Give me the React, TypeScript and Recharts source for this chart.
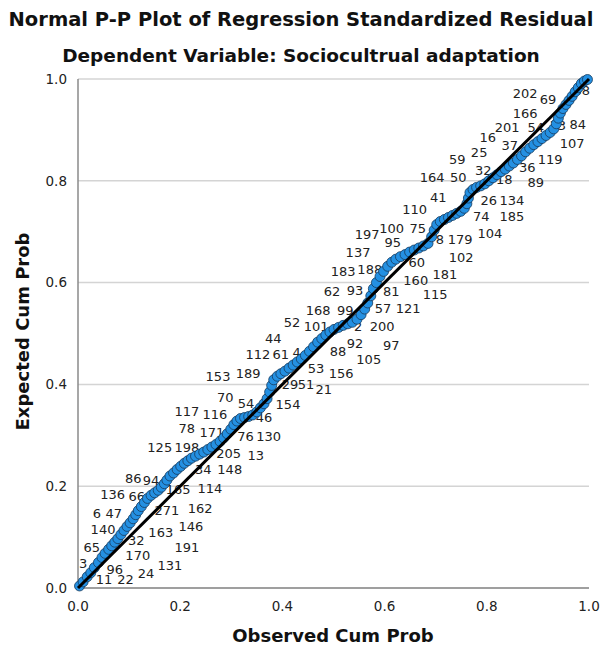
import { ScatterChart, Scatter, XAxis, YAxis, CartesianGrid } from "recharts";

const observed = [
  0.003, 0.010, 0.018, 0.025, 0.032, 0.040, 0.047, 0.053, 0.060, 0.066,
  0.072, 0.078, 0.084, 0.090, 0.096, 0.102, 0.108, 0.113, 0.118, 0.124,
  0.130, 0.136, 0.143, 0.150, 0.157, 0.163, 0.169, 0.174, 0.180, 0.187,
  0.194, 0.201, 0.208, 0.215, 0.222, 0.230, 0.238, 0.246, 0.254, 0.262,
  0.270, 0.278, 0.285, 0.292, 0.299, 0.305, 0.311, 0.318, 0.326, 0.334,
  0.342, 0.350, 0.357, 0.364, 0.370, 0.375, 0.379, 0.383, 0.390, 0.397,
  0.405, 0.413, 0.421, 0.429, 0.437, 0.445, 0.453, 0.461, 0.469, 0.477,
  0.485, 0.493, 0.501, 0.510, 0.519, 0.528, 0.537, 0.546, 0.554, 0.561,
  0.567, 0.573, 0.578, 0.584, 0.591, 0.598, 0.606, 0.614, 0.622, 0.631,
  0.640, 0.649, 0.658, 0.667, 0.676, 0.685, 0.692, 0.697, 0.702, 0.709,
  0.717, 0.725, 0.733, 0.741, 0.749, 0.756, 0.761, 0.764, 0.767, 0.773,
  0.780, 0.788, 0.796, 0.804, 0.812, 0.820, 0.828, 0.836, 0.844, 0.852,
  0.860, 0.868, 0.876, 0.884, 0.892, 0.900, 0.908, 0.916, 0.924, 0.931,
  0.936, 0.940, 0.944, 0.949, 0.955, 0.961, 0.967, 0.973, 0.979, 0.985,
  0.991, 0.997,
];
const expected = [
  0.004, 0.012, 0.022, 0.030, 0.040, 0.050, 0.060, 0.068, 0.076, 0.083,
  0.090, 0.097, 0.105, 0.113, 0.121, 0.128, 0.136, 0.144, 0.152, 0.160,
  0.168, 0.176, 0.182, 0.187, 0.192, 0.198, 0.205, 0.212, 0.220, 0.226,
  0.233, 0.239, 0.245, 0.250, 0.255, 0.259, 0.263, 0.267, 0.272, 0.277,
  0.282, 0.288, 0.295, 0.303, 0.312, 0.321, 0.328, 0.333, 0.335, 0.337,
  0.340, 0.346, 0.354, 0.362, 0.372, 0.385, 0.398, 0.409, 0.416, 0.421,
  0.426, 0.432, 0.438, 0.444, 0.450, 0.457, 0.465, 0.474, 0.483, 0.490,
  0.497, 0.503, 0.508, 0.512, 0.516, 0.519, 0.522, 0.528, 0.537, 0.548,
  0.560, 0.574, 0.588, 0.600, 0.612, 0.622, 0.632, 0.640, 0.646, 0.651,
  0.655, 0.660, 0.664, 0.668, 0.672, 0.677, 0.690, 0.703, 0.714, 0.720,
  0.724, 0.728, 0.732, 0.736, 0.740, 0.746, 0.755, 0.766, 0.777, 0.783,
  0.787, 0.790, 0.794, 0.800, 0.806, 0.812, 0.818, 0.823, 0.829, 0.835,
  0.842, 0.849, 0.857, 0.864, 0.871, 0.877, 0.883, 0.889, 0.895, 0.902,
  0.912, 0.923, 0.933, 0.942, 0.950, 0.958, 0.966, 0.975, 0.983, 0.991,
  0.996, 0.999,
];

// case-number labels and where they sit (data coordinates)
const caseIds = [
  "65", "3", "96", "11", "22", "24", "131", "170", "191", "32",
  "140", "163", "146", "6", "47", "271", "162", "136", "66", "165",
  "114", "86", "94", "34", "148", "125", "198", "205", "13", "78",
  "171", "76", "130", "117", "116", "70", "54", "46", "153", "189",
  "154", "21", "29", "51", "53", "156", "105", "88", "92", "97",
  "112", "61", "4", "44", "52", "101", "2", "200", "168", "99",
  "57", "121", "62", "93", "81", "183", "188", "160", "137", "95",
  "197", "100", "75", "60", "181", "115", "102", "8", "179", "110",
  "41", "164", "50", "59", "25", "16", "201", "54", "33", "84",
  "37", "32", "18", "26", "134", "74", "185", "104", "89", "36",
  "119", "107", "166", "202", "69", "68",
];
const caseX = [
  0.027, 0.010, 0.072, 0.051, 0.093, 0.133, 0.180, 0.117, 0.213, 0.114,
  0.049, 0.162, 0.221, 0.037, 0.070, 0.174, 0.239, 0.068, 0.115, 0.196,
  0.258, 0.108, 0.143, 0.245, 0.297, 0.160, 0.213, 0.295, 0.348, 0.213,
  0.262, 0.328, 0.373, 0.213, 0.268, 0.288, 0.329, 0.364, 0.274, 0.333,
  0.411, 0.481, 0.415, 0.446, 0.466, 0.515, 0.569, 0.509, 0.542, 0.613,
  0.352, 0.397, 0.428, 0.382, 0.419, 0.466, 0.548, 0.595, 0.470, 0.523,
  0.597, 0.646, 0.497, 0.542, 0.613, 0.519, 0.571, 0.661, 0.548, 0.616,
  0.566, 0.614, 0.665, 0.663, 0.718, 0.699, 0.750, 0.708, 0.748, 0.659,
  0.705, 0.693, 0.744, 0.742, 0.785, 0.802, 0.840, 0.896, 0.939, 0.978,
  0.845, 0.793, 0.834, 0.804, 0.849, 0.789, 0.849, 0.806, 0.896, 0.879,
  0.924, 0.967, 0.875, 0.875, 0.920, 0.986,
];
const caseY = [
  0.079, 0.049, 0.036, 0.016, 0.016, 0.029, 0.045, 0.063, 0.079, 0.094,
  0.114, 0.110, 0.120, 0.147, 0.147, 0.153, 0.157, 0.183, 0.179, 0.193,
  0.196, 0.216, 0.212, 0.232, 0.232, 0.277, 0.277, 0.265, 0.261, 0.314,
  0.305, 0.297, 0.297, 0.346, 0.340, 0.375, 0.363, 0.334, 0.415, 0.422,
  0.360, 0.389, 0.399, 0.399, 0.432, 0.422, 0.448, 0.464, 0.481, 0.477,
  0.458, 0.458, 0.462, 0.491, 0.521, 0.513, 0.513, 0.513, 0.546, 0.546,
  0.550, 0.550, 0.582, 0.585, 0.582, 0.621, 0.625, 0.605, 0.660, 0.678,
  0.694, 0.707, 0.707, 0.639, 0.615, 0.576, 0.650, 0.684, 0.684, 0.743,
  0.768, 0.806, 0.806, 0.841, 0.855, 0.886, 0.904, 0.904, 0.908, 0.910,
  0.870, 0.821, 0.802, 0.762, 0.762, 0.729, 0.729, 0.697, 0.796, 0.827,
  0.841, 0.874, 0.933, 0.971, 0.959, 0.978,
];

const axisTicks = [0, 0.2, 0.4, 0.6, 0.8, 1.0];
const diagonal = [
  { x: 0, y: 0 },
  { x: 1, y: 1 },
];

const points = observed.map((x, i) => ({ x, y: expected[i] }));
const caseLabels = caseIds.map((id, i) => ({ x: caseX[i], y: caseY[i], id }));

const font = "'DejaVu Sans', sans-serif";

const Dot = (props: any) => (
  <circle
    cx={props.cx}
    cy={props.cy}
    r={5}
    fill="#2490e2"
    stroke="#163a5c"
    strokeWidth={0.8}
  />
);

const CaseText = (props: any) => (
  <text
    x={props.cx}
    y={props.cy}
    textAnchor="middle"
    dominantBaseline="central"
    fontSize={13}
    fontFamily={font}
    fill="#222"
  >
    {props.payload.id}
  </text>
);

const Nothing = () => <g />;

const titleStyle = {
  position: "absolute" as const,
  left: 0,
  width: 602,
  textAlign: "center" as const,
  fontFamily: font,
  fontWeight: "bold" as const,
  fontSize: 18,
  color: "#111",
  whiteSpace: "nowrap" as const,
};

export default function App() {
  return (
    <div
      style={{
        position: "absolute",
        left: 0,
        top: 0,
        width: 602,
        height: 656,
        background: "#fff",
        overflow: "hidden",
      }}
    >
      <div style={{ ...titleStyle, top: 8, fontSize: 19.5 }}>
        Normal P-P Plot of Regression Standardized Residual
      </div>
      <div style={{ ...titleStyle, top: 45, fontSize: 18.5 }}>
        Dependent Variable: Sociocultrual adaptation
      </div>
      <div style={{ ...titleStyle, top: 625, left: 32 }}>
        Observed Cum Prob
      </div>
      <div
        style={{
          ...titleStyle,
          width: 300,
          left: 22 - 150,
          top: 333 - 12,
          transform: "rotate(-90deg)",
        }}
      >
        Expected Cum Prob
      </div>
      <div style={{ position: "absolute", left: 0, top: 0 }}>
        <ScatterChart
          width={602}
          height={656}
          margin={{ top: 79, right: 13, bottom: 38, left: 28 }}
        >
          <CartesianGrid
            horizontal
            vertical={false}
            stroke="#d4d4d4"
            strokeWidth={1.5}
          />
          <XAxis
            type="number"
            dataKey="x"
            domain={[0, 1]}
            ticks={axisTicks}
            tickFormatter={(v: number) => v.toFixed(1)}
            axisLine={{ stroke: "#8a8a8a", strokeWidth: 1.5 }}
            tickLine={false}
            height={30}
            tickMargin={7}
            tick={{ fontSize: 13.5, fill: "#222", fontFamily: font }}
          />
          <YAxis
            type="number"
            dataKey="y"
            domain={[0, 1]}
            ticks={axisTicks}
            tickFormatter={(v: number) => v.toFixed(1)}
            axisLine={{ stroke: "#8a8a8a", strokeWidth: 1.5 }}
            tickLine={false}
            width={50}
            tickMargin={5}
            tick={{ fontSize: 13.5, fill: "#222", fontFamily: font }}
          />
          <Scatter
            data={caseLabels}
            shape={CaseText}
            isAnimationActive={false}
          />
          <Scatter data={points} shape={Dot} isAnimationActive={false} />
          <Scatter
            data={diagonal}
            line={{ stroke: "#000", strokeWidth: 3 }}
            shape={Nothing}
            isAnimationActive={false}
          />
        </ScatterChart>
      </div>
    </div>
  );
}
